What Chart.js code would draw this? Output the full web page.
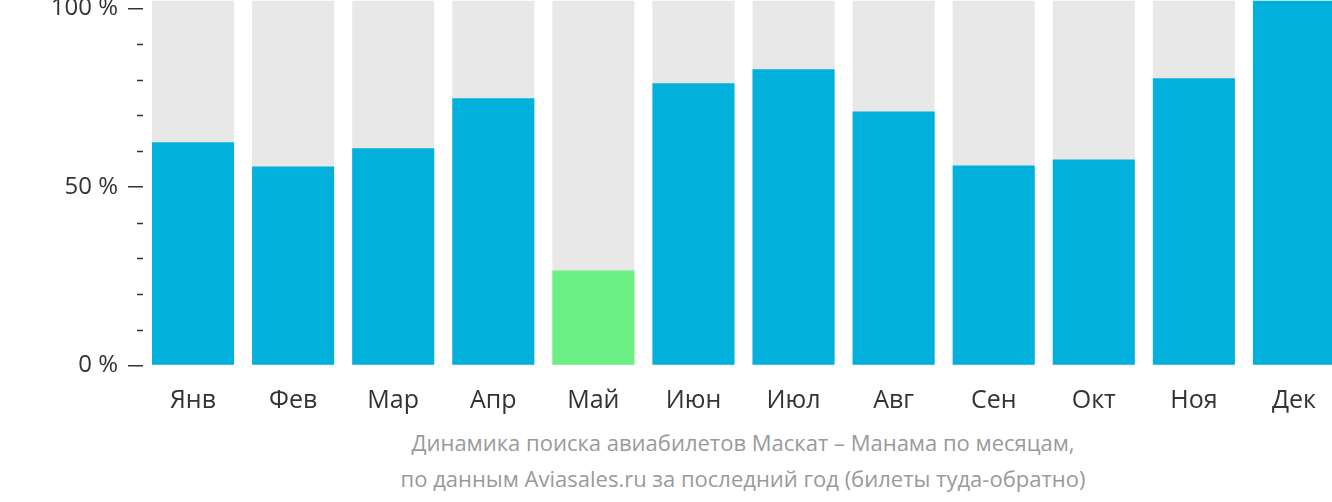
<!DOCTYPE html>
<html lang="en">
<head>
<meta charset="UTF-8">
<title>Маскат – Манама</title>
<script src="https://cdn.jsdelivr.net/npm/chart.js"></script>
<style>
    body { margin: 0; width: 1332px; height: 502px; overflow: hidden; background: #fff; font-family: "Open Sans", sans-serif; }
    #wrap { position: absolute; left: 0; top: 0; width: 1344px; height: 420px; }
    .note { position: absolute; left: 143px; width: 1200px; text-align: center; color: #9a9a9a; font-size: 22px; }
</style>
</head>
<body>
<div id="wrap"><canvas id="chart"></canvas></div>
<div class="note" style="top:427px">Динамика поиска авиабилетов Маскат – Манама по месяцам,</div>
<div class="note" style="top:463px">по данным Aviasales.ru за последний год (билеты туда-обратно)</div>
<script>
const months = ['Янв', 'Фев', 'Мар', 'Апр', 'Май', 'Июн', 'Июл', 'Авг', 'Сен', 'Окт', 'Ноя', 'Дек'];
const searches = [62.5, 55.7, 60.8, 74.8, 26.6, 79, 82.9, 71.1, 56, 57.7, 80.4, 102.2];
const lowMonth = 'Май';
const yMin = -2.2, yMax = 102.2;

const minorTicks = {
    id: 'minorTicks',
    afterDraw(chart) {
        const y = chart.scales.y, ctx = chart.ctx;
        ctx.save();
        ctx.strokeStyle = '#333';
        ctx.lineWidth = 1.5;
        for (let v = 10; v < 100; v += 10) {
            if (v % 50 === 0) continue;
            const py = Math.round(y.getPixelForValue(v)) + 0.5;
            ctx.beginPath();
            ctx.moveTo(y.right - 6, py);
            ctx.lineTo(y.right, py);
            ctx.stroke();
        }
        ctx.restore();
    }
};

const chart = new Chart(document.getElementById('chart'), {
    type: 'bar',
    data: {
        labels: months,
        datasets: [{
            data: searches,
            backgroundColor: months.map(m => m === lowMonth ? '#6cf086' : '#02b0dc'),
            barPercentage: 0.82,
            categoryPercentage: 1,
            grouped: false,
            order: 1
        }, {
            data: months.map(() => yMax),
            backgroundColor: '#e8e8e8',
            barPercentage: 0.82,
            categoryPercentage: 1,
            grouped: false,
            order: 2
        }]
    },
    options: {
        responsive: true,
        maintainAspectRatio: false,
        animation: false,
        layout: { padding: 0 },
        plugins: { legend: { display: false }, tooltip: { enabled: false } },
        scales: {
            x: {
                afterFit(axis) { axis.height = 47; },
                grid: { display: false },
                border: { display: false },
                ticks: { color: '#333', font: { family: 'Open Sans', size: 25 }, padding: 4 }
            },
            y: {
                min: yMin,
                max: yMax,
                afterBuildTicks(axis) { axis.ticks = [{ value: 0 }, { value: 50 }, { value: 100 }]; },
                afterFit(axis) { axis.width = 143; },
                grid: { drawOnChartArea: false, color: '#333', lineWidth: 1.5, tickLength: 15 },
                border: { display: false },
                ticks: {
                    color: '#333',
                    padding: 10,
                    font: { family: 'Open Sans', size: 24 },
                    callback: v => v + ' %'
                }
            }
        }
    },
    plugins: [minorTicks]
});

// pull the chart up so the plot area starts at the page top, as in the original
const t = chart.chartArea.top;
const wrap = document.getElementById('wrap');
wrap.style.top = (-t) + 'px';
wrap.style.height = (420 + t) + 'px';
chart.resize();
</script>
</body>
</html>
